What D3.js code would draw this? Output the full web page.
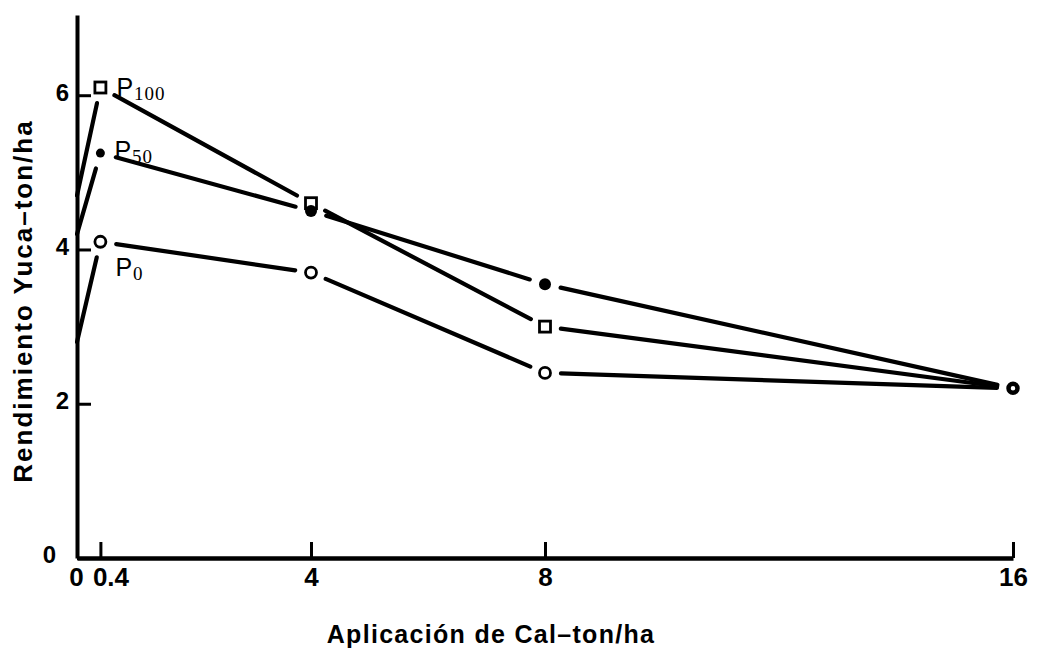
<!DOCTYPE html>
<meta charset="utf-8">
<script src="https://d3js.org/d3.v7.min.js"></script>
<style>
  body { margin: 0; background: #fff; }
  text { font-family: "Liberation Sans", Arial, sans-serif; fill: #000; }
</style>
<div id="chart"></div>
<script>
// lime applied (ton/ha) and cassava yield (ton/ha) for each phosphorus level
var cal = [0, 0.4, 4, 8, 16];
var p0 = [2.8, 4.1, 3.7, 2.4, 2.2];
var p50 = [4.2, 5.25, 4.5, 3.55, 2.2];
var p100 = [4.7, 6.1, 4.6, 3.0, 2.2];
var xTicks = [0, 0.4, 4, 8, 16];
var yTicks = [0, 2, 4, 6];

var width = 1039, height = 665;

var svg = d3.select("#chart")
  .append("svg")
    .attr("width", width)
    .attr("height", height);

var x = d3.scaleLinear().domain([0, 16]).range([77, 1013]);
var y = d3.scaleLinear().domain([0, 7.04]).range([558, 15]);

// X axis, ticks pointing inward
var xAxis = svg.append("g")
    .attr("transform", "translate(0," + y(0) + ")")
    .call(d3.axisBottom(x)
      .tickValues(xTicks)
      .tickFormat(d3.format(""))
      .tickSizeInner(-16)
      .tickSizeOuter(0)
      .tickPadding(10));
xAxis.select(".domain").attr("stroke-width", 4.5);
xAxis.selectAll(".tick line").attr("stroke-width", 3);
xAxis.selectAll(".tick text")
    .style("font-size", "26px")
    .style("font-weight", "bold")
    .attr("fill", "#000");
xAxis.selectAll(".tick text")
    .filter(function(d) { return d === 0.4; })
    .attr("text-anchor", "start")
    .attr("x", -8);
xAxis.selectAll(".tick text")
    .filter(function(d) { return d === 0; })
    .attr("x", -1);

// Y axis
var yAxis = svg.append("g")
    .attr("transform", "translate(" + x(0) + ",0)")
    .call(d3.axisLeft(y)
      .tickValues(yTicks)
      .tickFormat(d3.format("d"))
      .tickSizeInner(-14)
      .tickSizeOuter(0)
      .tickPadding(8));
yAxis.select(".domain").attr("stroke-width", 4);
yAxis.selectAll(".tick line").attr("stroke-width", 3);
yAxis.selectAll(".tick text")
    .style("font-size", "24px")
    .style("font-weight", "bold")
    .attr("dy", "0.2em")
    .attr("fill", "#000");
// the zero sits further out, left of the corner
yAxis.selectAll(".tick text")
    .filter(function(d) { return d === 0; })
    .attr("x", -21);

// series: lines broken around the markers like the original drawing
var series = [
  {key: "100", values: p100, marker: "square"},
  {key: "50", values: p50, marker: "dot"},
  {key: "0", values: p0, marker: "ring"}
];
var gap = 16;

series.forEach(function(s) {
  var pts = cal.map(function(c, i) { return [x(c), y(s.values[i])]; });
  var segs = d3.pairs(pts).map(function(p, i) {
    var a = p[0], b = p[1];
    var dx = b[0] - a[0], dy = b[1] - a[1], len = Math.hypot(dx, dy);
    var g0 = i === 0 ? 0 : gap; // first point sits on the axis, no marker
    return [a[0] + dx * g0 / len, a[1] + dy * g0 / len,
            b[0] - dx * gap / len, b[1] - dy * gap / len];
  });
  svg.append("g").selectAll("line")
    .data(segs)
    .enter().append("line")
      .attr("x1", function(d) { return d[0]; })
      .attr("y1", function(d) { return d[1]; })
      .attr("x2", function(d) { return d[2]; })
      .attr("y2", function(d) { return d[3]; })
      .attr("stroke", "#000")
      .attr("stroke-width", 4.2)
      .attr("stroke-linecap", "round");

  // markers on the inner points (0.4, 4, 8)
  var inner = cal.slice(1, cal.length - 1).map(function(c, i) {
    return {c: c, v: s.values[i + 1]};
  });
  var mg = svg.append("g");
  if (s.marker === "square") {
    mg.selectAll("rect").data(inner).enter().append("rect")
      .attr("x", function(d) { return x(d.c) - 5.5; })
      .attr("y", function(d) { return y(d.v) - 5.5; })
      .attr("width", 11).attr("height", 11)
      .attr("fill", "#fff").attr("stroke", "#000").attr("stroke-width", 2.8);
  } else if (s.marker === "dot") {
    mg.selectAll("circle").data(inner).enter().append("circle")
      .attr("cx", function(d) { return x(d.c); })
      .attr("cy", function(d) { return y(d.v); })
      .attr("r", function(d, i) { return i === 0 ? 4.5 : 6; })
      .attr("fill", "#000");
  } else {
    mg.selectAll("circle").data(inner).enter().append("circle")
      .attr("cx", function(d) { return x(d.c); })
      .attr("cy", function(d) { return y(d.v); })
      .attr("r", 5.5)
      .attr("fill", "#fff").attr("stroke", "#000").attr("stroke-width", 2.8);
  }
});

// all three meet at 16 ton/ha, drawn as one marker
svg.append("circle")
    .attr("cx", x(cal[4]))
    .attr("cy", y(p0[4]))
    .attr("r", 4.5)
    .attr("fill", "#fff")
    .attr("stroke", "#000")
    .attr("stroke-width", 4.5);

// series labels next to the 0.4 points
var labels = [
  {sub: "100", v: p100[1], dx: 16, dy: 8},
  {sub: "50", v: p50[1], dx: 14, dy: 6},
  {sub: "0", v: p0[1], dx: 15, dy: 34}
];
labels.forEach(function(l) {
  var t = svg.append("text")
      .attr("x", x(cal[1]) + l.dx)
      .attr("y", y(l.v) + l.dy)
      .style("font-size", "25px");
  t.append("tspan").text("P");
  t.append("tspan")
      .attr("dy", 4)
      .attr("dx", 1)
      .style("font-size", "19px")
      .style("letter-spacing", "1px")
      .style("font-family", "'Liberation Serif', serif")
      .text(l.sub);
});

// axis titles
svg.append("text")
    .attr("x", 491)
    .attr("y", 643)
    .attr("text-anchor", "middle")
    .style("font-size", "25px")
    .style("font-weight", "bold")
    .style("letter-spacing", "1.3px")
    .text("Aplicación de Cal–ton/ha");

svg.append("text")
    .attr("transform", "translate(32,301) rotate(-90)")
    .attr("text-anchor", "middle")
    .style("font-size", "26px")
    .style("font-weight", "bold")
    .style("letter-spacing", "2px")
    .text("Rendimiento Yuca–ton/ha");
</script>
